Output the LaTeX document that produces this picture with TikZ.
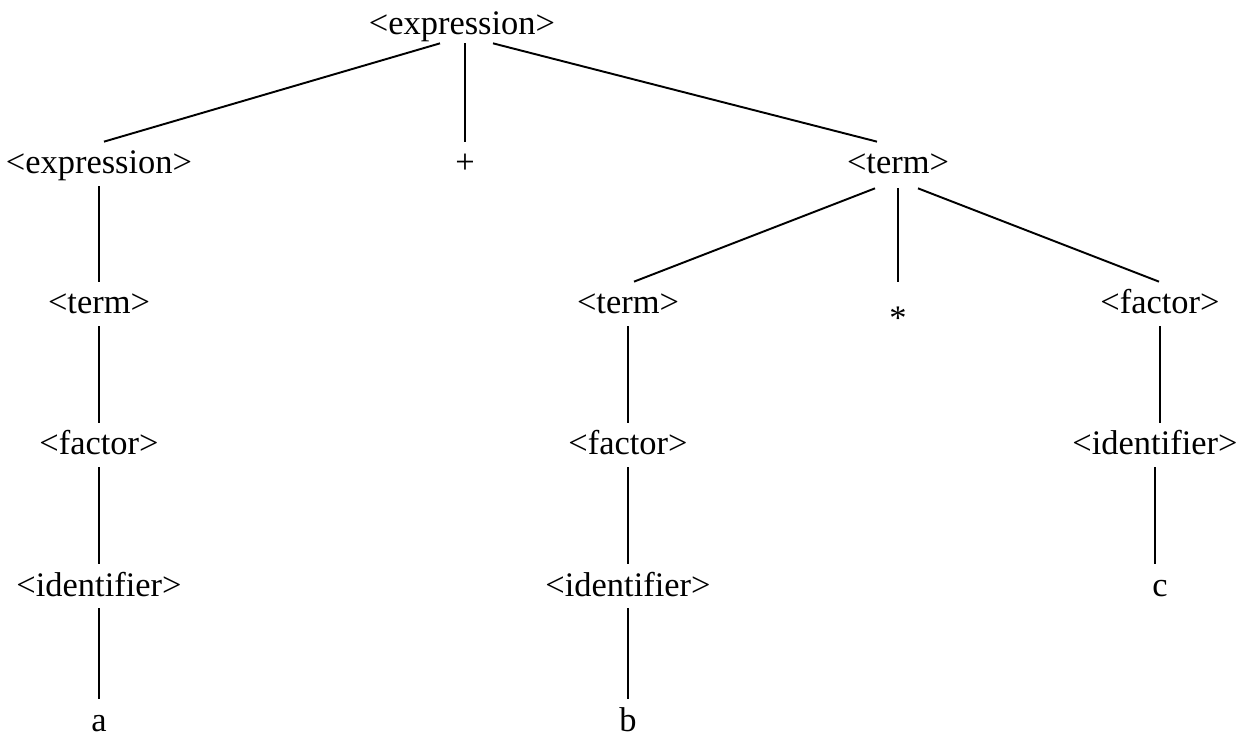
\documentclass[tikz,border=0pt]{standalone}
\usepackage{fontspec}
\setmainfont{Liberation Serif}
\usepackage{tikz}
\usetikzlibrary{calc}

\begin{document}
\begin{tikzpicture}[x=0.02cm, y=-0.02cm,
  sym/.style={anchor=base, inner sep=0pt, text height=0.64cm, text depth=0.24cm,
    font=\fontsize{19.6}{23}\selectfont},
  leaf/.style={sym, text depth=0pt},
  edge/.style={line width=1.1pt}]
  \useasboundingbox (0,0) rectangle (1238,736);
  % Root
  \node[sym] (root) at (462,35) {<expression>};
  % Level 1
  \node[sym] (e1) at (99,174) {<expression>};
  \node[sym] (plus) at (465,174) {+};
  \node[sym] (t1) at (898,174) {<term>};
  % Left branch
  \node[sym] (t2) at (99,314) {<term>};
  \node[sym] (f2) at (99,455) {<factor>};
  \node[sym] (i2) at (99,596) {<identifier>};
  \node[leaf] (lfa) at (99,731) {a};
  % Right branch
  \node[sym] (t3) at (628,314) {<term>};
  \node[sym] (star) at (898,314) {\raisebox{-0.45em}{*}};
  \node[sym] (f3) at (1160,314) {<factor>};
  \node[sym] (f4) at (628,455) {<factor>};
  \node[sym] (i5) at (628,596) {<identifier>};
  \node[leaf] (lfb) at (628,731) {b};
  \node[sym] (i4) at (1155,455) {<identifier>};
  \node[sym] (lfc) at (1160,596) {c};
  % Slanted edges
  \foreach \a/\dx/\dy/\b/\ex in {root/-22/-4/e1/5, root/3/-4/plus/0, root/31/-4/t1/-21,
                                 t1/-23/2/t3/6, t1/0/2/star/0, t1/20/2/f3/-1}{
    \draw[edge] ($(\a.south)+(\dx,\dy)$) -- ($(\b.north)+(\ex,0)$);
  }
  % Vertical chains
  \foreach \a/\b in {e1/t2, t2/f2, f2/i2, i2/lfa, t3/f4, f4/i5, i5/lfb, f3/i4, i4/lfc}{
    \draw[edge] (\a.south) -- (\a.south |- \b.north);
  }
\end{tikzpicture}
\end{document}
